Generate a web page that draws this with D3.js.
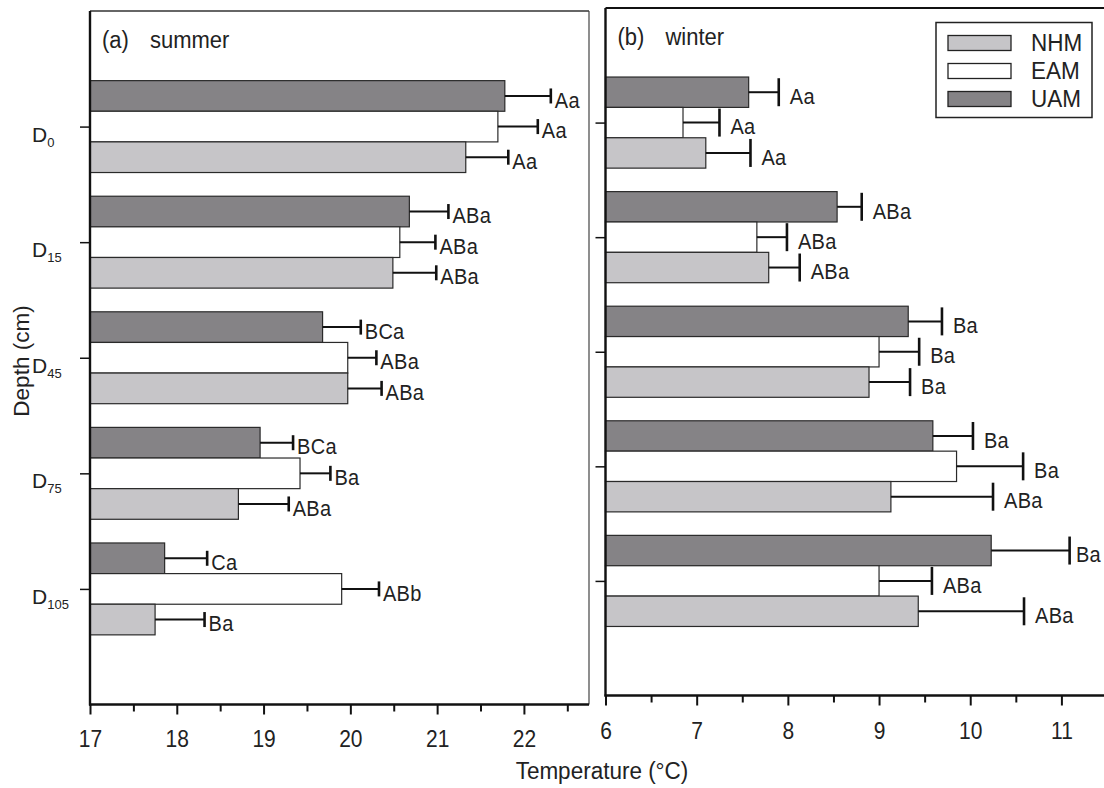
<!DOCTYPE html>
<html><head><meta charset="utf-8">
<script src="https://cdn.jsdelivr.net/npm/d3@7"></script>
<style>
body{margin:0;background:#fff}
svg text{font-family:"Liberation Sans",Arial,sans-serif;fill:#222}
.st{transform-box:fill-box;transform-origin:center;transform:scaleY(1.1)}
</style></head><body><svg id="c" width="1104" height="788"></svg>
<script>
// ---------- data ----------
const categories = ["D0","D15","D45","D75","D105"];
const catBase = ["D","D","D","D","D"];
const catSub = ["0","15","45","75","105"];
const seriesNames = ["NHM","EAM","UAM"];

const summerNHM = [21.33, 20.49, 19.97, 18.71, 17.75];
const summerNHMerr = [0.49, 0.50, 0.39, 0.58, 0.57];
const summerEAM = [21.70, 20.57, 19.97, 19.42, 19.90];
const summerEAMerr = [0.46, 0.41, 0.33, 0.35, 0.43];
const summerUAM = [21.78, 20.68, 19.68, 18.96, 17.86];
const summerUAMerr = [0.53, 0.45, 0.44, 0.38, 0.49];

const winterNHM = [7.10, 7.79, 8.89, 9.13, 9.43];
const winterNHMerr = [0.49, 0.34, 0.45, 1.12, 1.16];
const winterEAM = [6.85, 7.66, 9.00, 9.85, 9.00];
const winterEAMerr = [0.40, 0.33, 0.44, 0.73, 0.58];
const winterUAM = [7.57, 8.54, 9.32, 9.59, 10.23];
const winterUAMerr = [0.33, 0.27, 0.37, 0.44, 0.86];

const summerNHMsig = ["Aa","ABa","ABa","ABa","Ba"];
const summerEAMsig = ["Aa","ABa","ABa","Ba","ABb"];
const summerUAMsig = ["Aa","ABa","BCa","BCa","Ca"];
const winterNHMsig = ["Aa","ABa","Ba","ABa","ABa"];
const winterEAMsig = ["Aa","ABa","Ba","Ba","ABa"];
const winterUAMsig = ["Aa","ABa","Ba","Ba","Ba"];

const summerTicks = [17,18,19,20,21,22];
const summerMinor = [17.5,18.5,19.5,20.5,21.5,22.5];
const winterTicks = [6,7,8,9,10,11];
const winterMinor = [6.5,7.5,8.5,9.5,10.5];

// ---------- layout ----------
const colors = {NHM:"#c6c5c8", EAM:"#ffffff", UAM:"#858386"};
const svg = d3.select("#c");
const W = 1104;

const panels = [
  {key:"a", name:"summer", domain:[17,22.75], xr:[90,589], yr:[11,704.5],
   vals:{NHM:summerNHM,EAM:summerEAM,UAM:summerUAM},
   errs:{NHM:summerNHMerr,EAM:summerEAMerr,UAM:summerUAMerr},
   sig:{NHM:summerNHMsig,EAM:summerEAMsig,UAM:summerUAMsig},
   ticks:summerTicks, minor:summerMinor, capH:15, gap:4, frame:"thin", pad:17},
  {key:"b", name:"winter", domain:[6,11.5], xr:[605.5,1107], yr:[8,695.5],
   vals:{NHM:winterNHM,EAM:winterEAM,UAM:winterUAM},
   errs:{NHM:winterNHMerr,EAM:winterEAMerr,UAM:winterUAMerr},
   sig:{NHM:winterNHMsig,EAM:winterEAMsig,UAM:winterUAMsig},
   ticks:winterTicks, minor:winterMinor, capH:28, gap:11, frame:"thick", pad:18}
];

panels.forEach(p => {
  const x = d3.scaleLinear().domain(p.domain).range(p.xr);
  const y = d3.scaleLinear().domain([-1,5]).range(p.yr);
  const step = y(1)-y(0);
  const barH = step*0.265;
  const sub = d3.scaleBand().domain(["UAM","EAM","NHM"]).range([-1.5*barH,1.5*barH]);
  const g = svg.append("g");

  // frame
  if (p.frame === "thin") {
    g.append("line").attr("x1",p.xr[0]).attr("x2",p.xr[1]).attr("y1",p.yr[0]).attr("y2",p.yr[0])
      .attr("stroke","#333").attr("stroke-width",1.5);
    g.append("line").attr("x1",p.xr[1]).attr("x2",p.xr[1]).attr("y1",p.yr[0]).attr("y2",p.yr[1])
      .attr("stroke","#444").attr("stroke-width",1.2);
  } else {
    g.append("line").attr("x1",p.xr[0]).attr("x2",p.xr[1]).attr("y1",p.yr[0]).attr("y2",p.yr[0])
      .attr("stroke","#111").attr("stroke-width",2.2);
    g.append("line").attr("x1",p.xr[1]).attr("x2",p.xr[1]).attr("y1",p.yr[0]).attr("y2",p.yr[1])
      .attr("stroke","#111").attr("stroke-width",2);
  }

  // bars
  ["UAM","EAM","NHM"].forEach(s => {
    const vals = p.vals[s];
    categories.forEach((c,i) => {
      const yt = y(i)+sub(s);
      g.append("rect").attr("x",x(p.domain[0])).attr("y",yt)
        .attr("width",x(vals[i])-x(p.domain[0])).attr("height",barH)
        .attr("fill",colors[s]).attr("stroke","#2a2a2a").attr("stroke-width",1.2);
    });
  });
  ["UAM","EAM","NHM"].forEach(s => {
    const vals = p.vals[s], errs = p.errs[s], sig = p.sig[s];
    categories.forEach((c,i) => {
      const yc = y(i)+sub(s)+barH/2;
      const xe = x(vals[i]+errs[i]);
      g.append("line").attr("x1",x(vals[i])).attr("x2",xe).attr("y1",yc).attr("y2",yc)
        .attr("stroke","#111").attr("stroke-width",2);
      g.append("line").attr("x1",xe).attr("x2",xe).attr("y1",yc-p.capH/2).attr("y2",yc+p.capH/2)
        .attr("stroke","#111").attr("stroke-width",2.6);
      const t = g.append("text").attr("class","st").attr("x",xe+p.gap).attr("y",yc+11)
        .attr("font-size",20).attr("letter-spacing",0.3).text(sig[i]);
      // keep label inside the picture: pull it toward the cap if it would overflow
      const bw = t.node().getComputedTextLength();
      if (xe + p.gap + bw > W - 3) t.attr("x", Math.max(xe + 4, W - 3 - bw));
    });
  });

  // x axis
  const ax = g.append("g").attr("transform",`translate(0,${p.yr[1]})`)
    .call(d3.axisBottom(x).tickValues(p.ticks).tickSize(10).tickSizeOuter(0).tickPadding(p.pad).tickFormat(d3.format("d")));
  ax.select(".domain").remove();
  ax.selectAll(".tick line").attr("stroke","#111").attr("stroke-width",2);
  ax.selectAll(".tick text").attr("class","st").attr("font-size",21).attr("fill","#222")
    .attr("font-family","Liberation Sans, Arial, sans-serif");
  const axm = g.append("g").attr("transform",`translate(0,${p.yr[1]})`)
    .call(d3.axisBottom(x).tickValues(p.minor).tickSize(7).tickSizeOuter(0).tickFormat(""));
  axm.select(".domain").remove();
  axm.selectAll(".tick line").attr("stroke","#111").attr("stroke-width",2);
  g.append("line").attr("x1",p.xr[0]-1).attr("x2",p.xr[1]).attr("y1",p.yr[1]).attr("y2",p.yr[1])
    .attr("stroke","#111").attr("stroke-width",2.4);

  // y axis
  const ay = g.append("g").attr("transform",`translate(${p.xr[0]},0)`)
    .call(d3.axisLeft(y).tickValues([0,1,2,3,4]).tickSize(10).tickSizeOuter(0).tickFormat(""));
  ay.select(".domain").remove();
  ay.selectAll(".tick line").attr("stroke","#111").attr("stroke-width",1.5);
  g.append("line").attr("x1",p.xr[0]).attr("x2",p.xr[0]).attr("y1",p.yr[0]).attr("y2",p.yr[1]+1)
    .attr("stroke","#111").attr("stroke-width",2.4);

  // panel title
  g.append("text").attr("class","st").attr("x",p.xr[0]+12).attr("y",p.yr[0]+36)
    .attr("font-size",22).text(`(${p.key})`);
  g.append("text").attr("class","st").attr("x",p.xr[0]+60).attr("y",p.yr[0]+36)
    .attr("font-size",22).text(p.name);

  if (p.key === "a") {
    categories.forEach((c,i) => {
      const t = g.append("text").attr("x",32).attr("y",y(i)+15)
        .attr("font-size",21);
      t.append("tspan").text(catBase[i]);
      t.append("tspan").attr("font-size",13).attr("dy",5).text(catSub[i]);
    });
  }
});

// legend
const lg = svg.append("g");
lg.append("rect").attr("x",936).attr("y",22.5).attr("width",156).attr("height",95)
  .attr("fill","#fff").attr("stroke","#222").attr("stroke-width",1.5);
seriesNames.forEach((s,i) => {
  const yy = 35.5 + i*28;
  lg.append("rect").attr("x",948).attr("y",yy).attr("width",63).attr("height",15)
    .attr("fill",colors[s]).attr("stroke","#222").attr("stroke-width",1.3);
  lg.append("text").attr("class","st").attr("x",1031).attr("y",yy+14.5)
    .attr("font-size",22.5).text(s);
});

// axis titles
svg.append("text").attr("class","st").attr("x",602).attr("y",778).attr("text-anchor","middle")
  .attr("font-size",22.5).text("Temperature (°C)");
svg.append("text").attr("transform","translate(28.5,361) rotate(-90)").attr("text-anchor","middle")
  .attr("font-size",22.5).text("Depth (cm)");
</script></body></html>
